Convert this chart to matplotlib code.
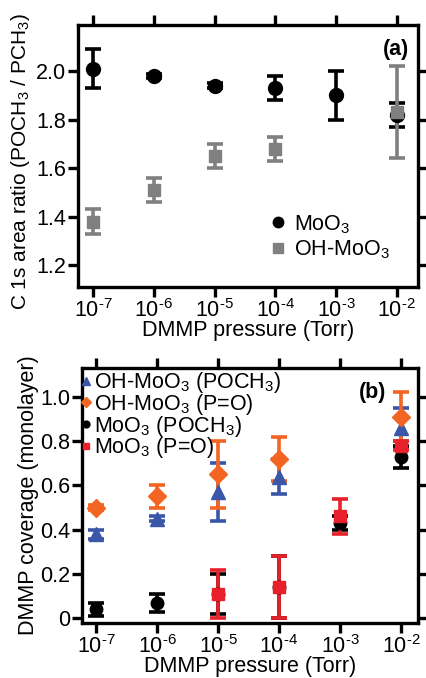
import numpy as np
import matplotlib
matplotlib.use("Agg")
import matplotlib.pyplot as plt

plt.rcParams['font.family'] = ['Liberation Sans', 'DejaVu Sans']
plt.rcParams['mathtext.fontset'] = 'custom'
plt.rcParams['mathtext.rm'] = 'Liberation Sans'
plt.rcParams['mathtext.it'] = 'Liberation Sans:italic'
plt.rcParams['mathtext.bf'] = 'Liberation Sans:bold'

# pressures (Torr)
pressure = [1e-7, 1e-6, 1e-5, 1e-4, 1e-3, 1e-2]
xtick_labels = ['10$^{\u20107}$', '10$^{\u20106}$', '10$^{\u20105}$',
                '10$^{\u20104}$', '10$^{\u20103}$', '10$^{\u20102}$']

# panel (a): C 1s area ratio
moo3_ratio = [2.01, 1.98, 1.94, 1.93, 1.90, 1.82]
moo3_ratio_err = [0.08, 0.01, 0.01, 0.05, 0.10, 0.05]
ohmoo3_ratio = [1.38, 1.51, 1.65, 1.68, np.nan, 1.83]
ohmoo3_ratio_err = [0.05, 0.05, 0.05, 0.05, np.nan, 0.19]

# panel (b): coverage (monolayer)
oh_poch3 = [0.38, 0.45, 0.57, 0.64, np.nan, 0.86]
oh_poch3_err = [0.02, 0.01, 0.13, 0.08, np.nan, 0.09]
oh_po = [0.50, 0.55, 0.65, 0.72, np.nan, 0.91]
oh_po_err = [0.01, 0.05, 0.15, 0.10, np.nan, 0.11]
moo3_poch3 = [0.04, 0.07, 0.11, 0.14, 0.43, 0.73]
moo3_poch3_err = [0.03, 0.04, 0.09, 0.14, 0.03, 0.05]
moo3_po = [np.nan, np.nan, 0.11, 0.14, 0.46, 0.78]
moo3_po_err = [np.nan, np.nan, 0.11, 0.14, 0.08, 0.02]

FS = 15.5
fig = plt.figure(figsize=(4.27, 6.78), dpi=100)


def style(ax):
    ax.set_xscale('log')
    for s in ax.spines.values():
        s.set_linewidth(2.4)
    ax.tick_params(which='major', direction='out', length=7, width=2.4,
                   labelsize=FS, top=True, right=True, pad=1.5)
    ax.tick_params(which='minor', length=0)
    ax.set_xticks(pressure)
    ax.set_xticklabels(xtick_labels)
    ax.set_xlabel('DMMP pressure (Torr)', fontsize=FS, labelpad=-1)


eb = dict(linestyle='none', elinewidth=2.6, capsize=6, capthick=2.6)

# ---- (a)
ax1 = fig.add_axes([78 / 427, 1 - 287 / 678, 340 / 427, 262 / 678])
style(ax1)
ax1.errorbar(pressure, moo3_ratio, yerr=moo3_ratio_err, fmt='o', color='black',
             markersize=10, label='MoO$_3$', **eb)
ax1.errorbar(pressure, ohmoo3_ratio, yerr=ohmoo3_ratio_err, fmt='s', color='#808080',
             markersize=9, label='OH-MoO$_3$', **eb)
ax1.set_xlim(10 ** -7.25, 10 ** -1.65)
ax1.set_ylim(1.11, 2.19)
ax1.set_yticks([1.2, 1.4, 1.6, 1.8, 2.0])
ax1.set_yticklabels(['1.2', '1.4', '1.6', '1.8', '2.0'])
ax1.set_ylabel('C 1s area ratio (POCH$_3$ / PCH$_3$)', fontsize=15, labelpad=1)
ax1.yaxis.set_label_coords(-0.135, 0.48)
ax1.text(0.975, 0.905, '(a)', transform=ax1.transAxes, ha='right', va='center',
         fontsize=FS, fontweight='bold')
h, l = ax1.get_legend_handles_labels()
h = [x[0] for x in h]
ax1.legend(h, l, loc='center left', bbox_to_anchor=(0.51, 0.19), frameon=False,
           fontsize=FS, handlelength=0.7, handletextpad=0.4, labelspacing=0.15,
           markerscale=0.75)

# ---- (b)
ax2 = fig.add_axes([82 / 427, 1 - 623 / 678, 336 / 427, 255 / 678])
style(ax2)
ax2.errorbar(pressure, oh_poch3, yerr=oh_poch3_err, fmt='^', color='#3A56A8',
             markersize=10, label='OH-MoO$_3$ (POCH$_3$)', **eb)
ax2.errorbar(pressure, oh_po, yerr=oh_po_err, fmt='D', color='#F26522',
             markersize=9, label='OH-MoO$_3$ (P=O)', **eb)
ax2.errorbar(pressure, moo3_poch3, yerr=moo3_poch3_err, fmt='o', color='black',
             markersize=9, label='MoO$_3$ (POCH$_3$)', **eb)
ax2.errorbar(pressure, moo3_po, yerr=moo3_po_err, fmt='s', color='#E8202A',
             markersize=9, label='MoO$_3$ (P=O)', **eb)
ax2.set_xlim(10 ** -7.23, 10 ** -1.72)
ax2.set_ylim(-0.021, 1.13)
ax2.set_yticks([0, 0.2, 0.4, 0.6, 0.8, 1.0])
ax2.set_yticklabels(['0', '0.2', '0.4', '0.6', '0.8', '1.0'])
ax2.set_ylabel('DMMP coverage (monolayer)', fontsize=FS, labelpad=1)
ax2.text(0.905, 0.905, '(b)', transform=ax2.transAxes, ha='right', va='center',
         fontsize=FS, fontweight='bold')
h, l = ax2.get_legend_handles_labels()
h = [x[0] for x in h]
ax2.legend(h, l, loc='upper left', bbox_to_anchor=(-0.01, 1.0), frameon=False,
           fontsize=FS, handlelength=0.45, handletextpad=0.15, labelspacing=-0.15,
           markerscale=0.55, borderaxespad=0, borderpad=0.1)

fig.savefig('out.png', dpi=100)
